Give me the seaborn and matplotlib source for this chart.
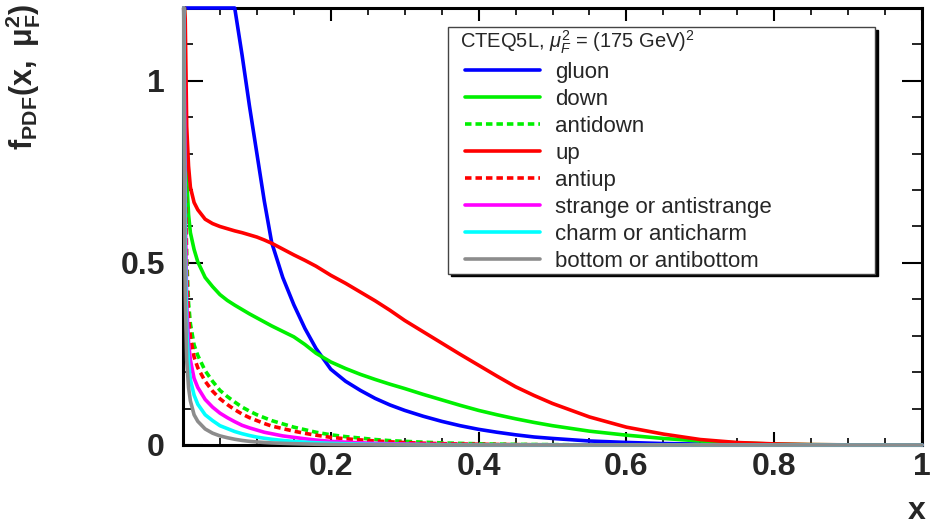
import numpy as np
import pandas as pd
import matplotlib
matplotlib.use("Agg")
import matplotlib.pyplot as plt
import seaborn as sns
from matplotlib.ticker import MultipleLocator
from matplotlib.lines import Line2D
from matplotlib.legend_handler import HandlerLine2D

# ---------------- data ----------------
x_grid = [0.001, 0.002, 0.003, 0.005, 0.0075, 0.01, 0.015, 0.02, 0.03, 0.04,
          0.05, 0.06, 0.07, 0.08, 0.09, 0.1, 0.11, 0.12, 0.135, 0.15,
          0.165, 0.18, 0.2, 0.22, 0.24, 0.26, 0.28, 0.3, 0.325, 0.35,
          0.375, 0.4, 0.425, 0.45, 0.475, 0.5, 0.55, 0.6, 0.65, 0.7,
          0.75, 0.8, 0.85, 0.9, 0.95, 1.0]

gluon = [17, 12, 9.5, 7, 5.4, 4.5, 3.4, 2.8, 2.1, 1.7,
         1.5, 1.33, 1.22, 1.07, 0.93, 0.8, 0.67, 0.556, 0.46, 0.385,
         0.32, 0.265, 0.208, 0.175, 0.15, 0.128, 0.11, 0.095, 0.079, 0.065,
         0.053, 0.043, 0.035, 0.028, 0.022, 0.018, 0.011, 0.007, 0.004, 0.0025,
         0.0013, 0.0007, 0.0003, 0.0001, 0.00003, 0.0]
up = [2.5, 1.67, 1.17, 0.875, 0.766, 0.708, 0.666, 0.646, 0.62, 0.608,
      0.6, 0.594, 0.588, 0.583, 0.577, 0.571, 0.563, 0.554, 0.538, 0.522,
      0.507, 0.491, 0.466, 0.444, 0.42, 0.396, 0.37, 0.342, 0.311, 0.28,
      0.249, 0.219, 0.189, 0.16, 0.136, 0.114, 0.077, 0.049, 0.03, 0.015,
      0.0068, 0.003, 0.0011, 0.0004, 0.0001, 0.0]
down = [2.17, 1.42, 1.04, 0.733, 0.633, 0.583, 0.537, 0.503, 0.46, 0.435,
        0.413, 0.397, 0.384, 0.372, 0.36, 0.349, 0.338, 0.327, 0.312, 0.297,
        0.276, 0.252, 0.228, 0.21, 0.194, 0.18, 0.167, 0.155, 0.139, 0.124,
        0.109, 0.095, 0.083, 0.072, 0.062, 0.053, 0.038, 0.027, 0.018, 0.011,
        0.006, 0.0025, 0.001, 0.0003, 0.0001, 0.0]
antidown = [1.92, 1.17, 0.79, 0.516, 0.39, 0.333, 0.275, 0.246, 0.204, 0.175,
            0.15, 0.133, 0.118, 0.104, 0.093, 0.083, 0.075, 0.067, 0.058, 0.049,
            0.042, 0.035, 0.028, 0.023, 0.019, 0.015, 0.012, 0.01, 0.0078, 0.0058,
            0.0045, 0.0033, 0.0025, 0.0018, 0.0014, 0.001, 0.0005, 0.0002, 0.0, 0.0,
            0.0, 0.0, 0.0, 0.0, 0.0, 0.0]
antiup = [1.83, 1.08, 0.733, 0.466, 0.35, 0.296, 0.242, 0.212, 0.175, 0.148,
          0.127, 0.111, 0.097, 0.085, 0.075, 0.067, 0.059, 0.052, 0.045, 0.038,
          0.032, 0.027, 0.021, 0.017, 0.014, 0.011, 0.0088, 0.0067, 0.005, 0.0037,
          0.0028, 0.0021, 0.0015, 0.0011, 0.0008, 0.0006, 0.0003, 0.0001, 0.0, 0.0,
          0.0, 0.0, 0.0, 0.0, 0.0, 0.0]
strange = [1.67, 0.96, 0.65, 0.39, 0.283, 0.233, 0.183, 0.158, 0.125, 0.104,
           0.0875, 0.075, 0.064, 0.054, 0.047, 0.041, 0.035, 0.031, 0.025, 0.021,
           0.017, 0.0135, 0.01, 0.0078, 0.006, 0.0046, 0.0036, 0.0028, 0.002, 0.0014,
           0.001, 0.00075, 0.0005, 0.0004, 0.0003, 0.0002, 0.0, 0.0, 0.0, 0.0,
           0.0, 0.0, 0.0, 0.0, 0.0, 0.0]
charm = [1.5, 0.82, 0.54, 0.317, 0.225, 0.179, 0.137, 0.112, 0.083, 0.067,
         0.053, 0.045, 0.037, 0.031, 0.026, 0.0217, 0.0185, 0.0158, 0.0125, 0.0098,
         0.0078, 0.0062, 0.0046, 0.0035, 0.0026, 0.0019, 0.0014, 0.0011, 0.0007, 0.0005,
         0.0003, 0.0002, 0.0, 0.0, 0.0, 0.0, 0.0, 0.0, 0.0, 0.0,
         0.0, 0.0, 0.0, 0.0, 0.0, 0.0]
bottom = [1.25, 0.65, 0.417, 0.233, 0.158, 0.121, 0.083, 0.065, 0.044, 0.0325,
          0.025, 0.02, 0.0158, 0.0125, 0.01, 0.0083, 0.0069, 0.0058, 0.0046, 0.0036,
          0.0028, 0.0021, 0.0015, 0.0011, 0.0008, 0.0005, 0.0004, 0.00025, 0.0, 0.0,
          0.0, 0.0, 0.0, 0.0, 0.0, 0.0, 0.0, 0.0, 0.0, 0.0,
          0.0, 0.0, 0.0, 0.0, 0.0, 0.0]

series_names = ["gluon", "down", "antidown", "up", "antiup",
                "strange or antistrange", "charm or anticharm", "bottom or antibottom"]
series_values = [gluon, down, antidown, up, antiup, strange, charm, bottom]
series_colors = ["#0000ff", "#00f000", "#00f000", "#ff0000", "#ff0000",
                 "#ff00ff", "#00ffff", "#8c8c8c"]
dashed_series = ["antidown", "antiup"]

x_major_ticks = [0.2, 0.4, 0.6, 0.8, 1.0]
x_tick_labels = ["0.2", "0.4", "0.6", "0.8", "1"]
y_major_ticks = [0.0, 0.5, 1.0]
y_tick_labels = ["0", "0.5", "1"]
y_max = 1.2

legend_title = r"CTEQ5L, $\mu_F^2$ = (175 GeV)$^2$"
y_label = r"$\mathbf{f_{PDF}(x,\ \mu_{F}^{2})}$"
x_label = "x"

for v in series_values:
    assert len(v) == len(x_grid)

# ---------------- style ----------------
sns.set_style("ticks")
plt.rcParams["font.family"] = ["Liberation Sans", "DejaVu Sans"]
plt.rcParams["mathtext.fontset"] = "custom"
plt.rcParams["mathtext.rm"] = "Liberation Sans"
plt.rcParams["mathtext.it"] = "Liberation Sans:italic"
plt.rcParams["mathtext.bf"] = "Liberation Sans:bold"

W, H = 935, 527
fig = plt.figure(figsize=(W / 100, H / 100), dpi=100)
fig.patch.set_facecolor("white")
ax = fig.add_axes([183 / W, 1 - 445 / H, (922 - 183) / W, (445 - 8) / H])
ax.set_facecolor("white")

rows = []
for name, vals in zip(series_names, series_values):
    clipped = np.clip(np.asarray(vals, dtype=float), 0.0, y_max)
    for xv, yv in zip(x_grid, clipped):
        rows.append({"x": xv, "f": yv, "parton": name})
df = pd.DataFrame(rows)

palette = dict(zip(series_names, series_colors))
dashes = {n: ((1.8, 1.1) if n in dashed_series else "") for n in series_names}

sns.lineplot(data=df, x="x", y="f", hue="parton", style="parton",
             hue_order=series_names, style_order=series_names,
             palette=palette, dashes=dashes, estimator=None, sort=False,
             linewidth=2.6, legend=False, ax=ax, clip_on=False, zorder=3)

ax.set_xlim(0, 1)
ax.set_ylim(0, y_max)

ax.set_xticks(x_major_ticks, labels=x_tick_labels, fontsize=23, fontweight="bold")
ax.set_yticks(y_major_ticks, labels=y_tick_labels, fontsize=23, fontweight="bold")
ax.xaxis.set_minor_locator(MultipleLocator(0.05))
ax.yaxis.set_minor_locator(MultipleLocator(0.1))
ax.tick_params(axis="both", which="both", direction="in", top=True, right=True,
               color="black")
ax.tick_params(axis="x", which="major", length=9.5, width=1.5, pad=5)
ax.tick_params(axis="x", which="minor", length=5, width=1.2)
ax.tick_params(axis="y", which="major", length=14.5, width=1.5, pad=13)
ax.tick_params(axis="y", which="minor", length=7, width=1.2)

for sp in ax.spines.values():
    sp.set_linewidth(2.2)
    sp.set_color("black")

ax.set_xlabel(x_label, fontsize=23, fontweight="bold", loc="right",
              va="baseline")
ax.xaxis.set_label_coords(1.005, -(519 - 445) / 437)
ax.set_ylabel(y_label, fontsize=22, loc="top")
ax.yaxis.set_label_coords(-0.19, 1.01)

handles = ax.get_lines()[:len(series_names)]
leg = ax.legend(handles, series_names, title=legend_title,
                loc="upper left",
                bbox_to_anchor=((448 - 183) / 739, (445 - 268) / 437,
                                (875 - 448) / 739, (268 - 27) / 437),
                mode="expand", borderaxespad=0, alignment="left",
                prop={"size": 16}, title_fontsize=14.5,
                handlelength=4.07, handleheight=0.7, handletextpad=0.68,
                labelspacing=0.27, borderpad=0.07, frameon=True, fancybox=False,
                framealpha=1, edgecolor="#444444",
                shadow={"color": "black", "alpha": 1},
                handler_map={Line2D: HandlerLine2D(xpad=0.69)})
leg.get_frame().set_linewidth(1.0)
leg.get_title().set_x(10)
leg.set_zorder(5)

fig.savefig("out.png", dpi=100, facecolor="white")
